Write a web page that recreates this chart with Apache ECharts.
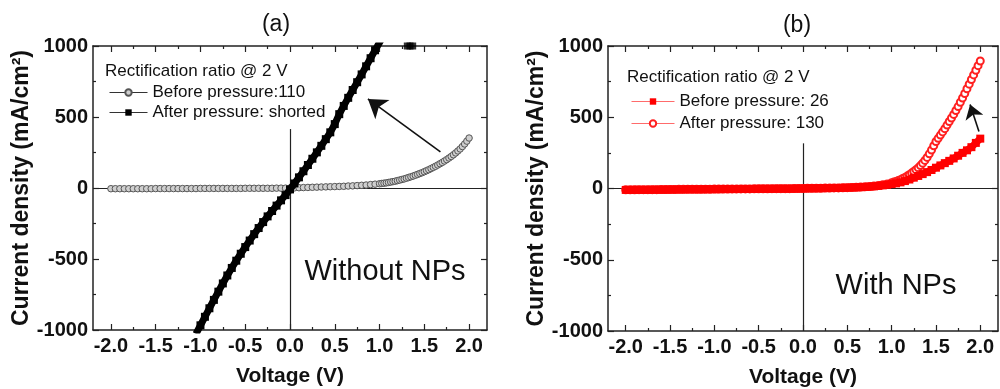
<!DOCTYPE html>
<html>
<head>
<meta charset="utf-8">
<script src="https://cdn.jsdelivr.net/npm/echarts@6/dist/echarts.min.js"></script>
<style>
  html, body { margin: 0; padding: 0; background: #fff; }
  #chart { width: 1000px; height: 389px; }
</style>
</head>
<body>
<div id="chart"></div>
<script>
// voltage samples (V): coarse below 1 V, finer on the rising part
var voltsLo = [-2.0, -1.95, -1.9, -1.85, -1.8, -1.75, -1.7, -1.65, -1.6, -1.55,
  -1.5, -1.45, -1.4, -1.35, -1.3, -1.25, -1.2, -1.15, -1.1, -1.05,
  -1.0, -0.95, -0.9, -0.85, -0.8, -0.75, -0.7, -0.65, -0.6, -0.55,
  -0.5, -0.45, -0.4, -0.35, -0.3, -0.25, -0.2, -0.15, -0.1, -0.05,
  0.0,
  0.05, 0.1, 0.15, 0.2, 0.25, 0.3, 0.35, 0.4, 0.45, 0.5,
  0.55, 0.6, 0.65, 0.7, 0.75, 0.8, 0.85, 0.9, 0.95]

var voltsHi = [1.0, 1.025, 1.05, 1.075, 1.1, 1.125, 1.15, 1.175, 1.2, 1.225,
  1.25, 1.275, 1.3, 1.325, 1.35, 1.375, 1.4, 1.425, 1.45, 1.475,
  1.5, 1.525, 1.55, 1.575, 1.6, 1.625, 1.65, 1.675, 1.7, 1.725,
  1.75, 1.775, 1.8, 1.825, 1.85, 1.875, 1.9, 1.925, 1.95, 1.975, 2.0]

var volts = [-2.0, -1.95, -1.9, -1.85, -1.8, -1.75, -1.7, -1.65, -1.6, -1.55,
  -1.5, -1.45, -1.4, -1.35, -1.3, -1.25, -1.2, -1.15, -1.1, -1.05,
  -1.0, -0.95, -0.9, -0.85, -0.8, -0.75, -0.7, -0.65, -0.6, -0.55,
  -0.5, -0.45, -0.4, -0.35, -0.3, -0.25, -0.2, -0.15, -0.1, -0.05,
  0.0,
  0.05, 0.1, 0.15, 0.2, 0.25, 0.3, 0.35, 0.4, 0.45, 0.5,
  0.55, 0.6, 0.65, 0.7, 0.75, 0.8, 0.85, 0.9, 0.95, 1.0,
  1.05, 1.1, 1.15, 1.2, 1.25, 1.3, 1.35, 1.4, 1.45, 1.5,
  1.55, 1.6, 1.65, 1.7, 1.75, 1.8, 1.85, 1.9, 1.95, 2.0]

var voltsShort = [-1.05, -1.0, -0.95, -0.9, -0.85, -0.8, -0.75, -0.7, -0.65, -0.6, -0.55,
  -0.5, -0.45, -0.4, -0.35, -0.3, -0.25, -0.2, -0.15, -0.1, -0.05,
  0.0,
  0.05, 0.1, 0.15, 0.2, 0.25, 0.3, 0.35, 0.4, 0.45, 0.5,
  0.55, 0.6, 0.65, 0.7, 0.75, 0.8, 0.85, 0.9, 0.95, 1.0, 1.05]

// (a) without NPs, mA/cm2
var leftBeforeLo = [-5, -5, -5, -5, -5, -5, -5, -5, -5, -5,
  -4, -4, -4, -4, -4, -4, -4, -4, -4, -4,
  -3, -3, -3, -3, -3, -3, -3, -3, -3, -3,
  -2, -2, -2, -2, -2, -2, -2, -1, -1, -1,
  0,
  1, 2, 3, 4, 5, 6, 7, 8, 9, 10,
  11, 12, 14, 15, 17, 19, 21, 24, 27]
var leftBeforeHi = [30, 32, 34, 36, 39, 42, 45, 48, 52, 56,
  60, 64, 69, 74, 79, 84, 90, 96, 102, 108,
  115, 122, 129, 137, 145, 153, 162, 171, 180, 190,
  200, 211, 222, 234, 247, 261, 275, 292, 310, 330, 352]

var leftAfter = [-1028, -967, -907, -847, -788, -730, -672, -616, -563, -512, -463,
  -416, -370, -325, -282, -240, -200, -162, -124, -87, -50,
  -10,
  32, 75, 118, 162, 206, 251, 297, 344, 392, 450,
  520, 578, 635, 690, 745, 800, 857, 914, 970, 1025, 1080]

var leftClip = [[1.31, 1000], [1.34, 1000], [1.37, 1000]]

// (b) with NPs, mA/cm2
var rightBefore = [-10, -10, -9, -9, -9, -9, -8, -8, -8, -8,
  -7, -7, -7, -7, -6, -6, -6, -6, -5, -5,
  -5, -5, -4, -4, -4, -4, -3, -3, -3, -3,
  -2, -2, -2, -2, -1, -1, -1, -1, -1, 0,
  0,
  1, 1, 2, 2, 3, 3, 4, 4, 5, 6,
  7, 8, 9, 11, 13, 15, 18, 22, 26, 31,
  36, 43, 52, 63, 76, 88, 101, 115, 130, 146,
  162, 178, 194, 211, 230, 250, 268, 290, 320, 350]

var rightAfterLo = [-9, -9, -9, -8, -8, -8, -8, -8, -7, -7,
  -7, -7, -6, -6, -6, -6, -5, -5, -5, -5,
  -4, -4, -4, -4, -3, -3, -3, -3, -3, -2,
  -2, -2, -2, -1, -1, -1, -1, -1, 0, 0,
  0,
  1, 1, 2, 2, 3, 3, 4, 4, 5, 6,
  7, 8, 10, 12, 14, 17, 21, 26, 32]
var rightAfterHi = [40, 45, 50, 56, 62, 70, 78, 87, 97, 108,
  120, 132, 145, 161, 178, 197, 218, 243, 270, 300,
  330, 352, 375, 397, 420, 445, 470, 495, 520, 547,
  575, 605, 635, 667, 700, 732, 765, 797, 830, 862, 895]

// ticks
var xMajor = [-2.0, -1.5, -1.0, -0.5, 0.0, 0.5, 1.0, 1.5, 2.0]
var xMinor = [-1.75, -1.25, -0.75, -0.25, 0.25, 0.75, 1.25, 1.75]
var yMajor = [-1000, -500, 0, 500, 1000]
var yMinor = [-750, -250, 250, 750]

var FONT = '"Liberation Sans", Arial, sans-serif'
var INK = '#222'

function pairs(xs, ys) {
  return xs.map(function (x, i) { return [x, ys[i]] })
}

function tick(vals, len) {
  return { show: true, inside: true, length: len, customValues: vals, lineStyle: { color: INK, width: 1.2 } }
}

var frameLine = { show: true, onZero: false, lineStyle: { color: INK, width: 1.5 } }
var noLine = { show: false, onZero: false }

function xAxes(grid) {
  var base = { type: 'value', gridIndex: grid, min: -2.2, max: 2.2, splitLine: { show: false } }
  return [
    Object.assign({}, base, {
      position: 'bottom', axisLine: frameLine, axisTick: tick(xMajor, 6),
      axisLabel: {
        customValues: xMajor, margin: 6, color: '#111', fontSize: 20, fontWeight: 'bold', fontFamily: FONT,
        formatter: function (v) { return v.toFixed(1) },
      },
      name: 'Voltage (V)', nameLocation: 'middle', nameGap: 36,
      nameTextStyle: { color: '#111', fontSize: 21, fontWeight: 'bold', fontFamily: FONT },
    }),
    Object.assign({}, base, { position: 'bottom', axisLine: noLine, axisTick: tick(xMinor, 3), axisLabel: { show: false } }),
    Object.assign({}, base, { position: 'top', axisLine: frameLine, axisTick: tick(xMajor, 6), axisLabel: { show: false } }),
    Object.assign({}, base, { position: 'top', axisLine: noLine, axisTick: tick(xMinor, 3), axisLabel: { show: false } }),
  ]
}

function yAxes(grid, gap) {
  var base = { type: 'value', gridIndex: grid, min: -1000, max: 1000, splitLine: { show: false } }
  return [
    Object.assign({}, base, {
      position: 'left', axisLine: frameLine, axisTick: tick(yMajor, 6),
      axisLabel: {
        customValues: yMajor, margin: 5, color: '#111', fontSize: 20, fontWeight: 'bold', fontFamily: FONT,
        formatter: function (v) { return String(v) },
      },
      name: 'Current density (mA/cm²)', nameLocation: 'middle', nameGap: gap, nameRotate: 90,
      nameTextStyle: { color: '#111', fontSize: 23, fontWeight: 'bold', fontFamily: FONT },
    }),
    Object.assign({}, base, { position: 'left', axisLine: noLine, axisTick: tick(yMinor, 3), axisLabel: { show: false } }),
    Object.assign({}, base, { position: 'right', axisLine: frameLine, axisTick: tick(yMajor, 6), axisLabel: { show: false } }),
    Object.assign({}, base, { position: 'right', axisLine: noLine, axisTick: tick(yMinor, 3), axisLabel: { show: false } }),
  ]
}

// y = 0 line and the short x = 0 line under the legend
function zeroLines(top) {
  return {
    silent: true, z: 1, symbol: 'none', label: { show: false },
    lineStyle: { color: INK, width: 1.2, type: 'solid' },
    data: [
      { yAxis: 0 },
      [{ coord: [0, -1000] }, { coord: [0, top] }],
    ],
  }
}

function arrow(from, to, size) {
  return {
    silent: true, symbol: ['none', 'arrow'], symbolSize: size, label: { show: false },
    lineStyle: { color: '#111', width: 1.6, type: 'solid' },
    data: [[{ coord: from }, { coord: to }]],
  }
}

var legendText = { fontSize: 17, color: '#111', fontFamily: FONT }
var bigText = { fontSize: 29, fontFamily: FONT, fill: '#111', textAlign: 'center', textVerticalAlign: 'middle' }

var chart = echarts.init(document.getElementById('chart'))
chart.setOption({
  animation: false,
  backgroundColor: '#fff',
  grid: [
    { left: 93, top: 46, width: 394, height: 284, outerBoundsMode: 'none' },
    { left: 608, top: 46, width: 390, height: 285, outerBoundsMode: 'none' },
  ],
  xAxis: xAxes(0).concat(xAxes(1)),
  yAxis: yAxes(0, 50).concat(yAxes(1, 58)),
  legend: [
    {
      data: ['Before pressure:110', 'After pressure: shorted'],
      left: 104, top: 79, orient: 'vertical', itemWidth: 38, itemHeight: 8, itemGap: 3,
      selectedMode: false, textStyle: legendText, lineStyle: { width: 1, color: '#333' },
    },
    {
      data: ['Before pressure: 26', 'After pressure: 130'],
      left: 626, top: 88, orient: 'vertical', itemWidth: 43, itemHeight: 8, itemGap: 5,
      selectedMode: false, textStyle: legendText, lineStyle: { width: 1, color: '#ff6b6b' },
    },
  ],
  graphic: [
    { type: 'text', x: 276, y: 25, style: Object.assign({}, bigText, { text: '(a)', fontSize: 23 }) },
    { type: 'text', x: 797, y: 26, style: Object.assign({}, bigText, { text: '(b)', fontSize: 23 }) },
    { type: 'text', x: 385, y: 272, style: Object.assign({}, bigText, { text: 'Without NPs' }) },
    { type: 'text', x: 896, y: 286, style: Object.assign({}, bigText, { text: 'With NPs' }) },
    { type: 'text', x: 105, y: 71, style: { text: 'Rectification ratio @ 2 V', fontSize: 17, fontFamily: FONT, fill: '#111', textVerticalAlign: 'middle' } },
    { type: 'text', x: 627, y: 77, style: { text: 'Rectification ratio @ 2 V', fontSize: 17, fontFamily: FONT, fill: '#111', textVerticalAlign: 'middle' } },
  ],
  series: [
    {
      name: 'Before pressure:110', type: 'line', xAxisIndex: 0, yAxisIndex: 0,
      data: pairs(voltsLo, leftBeforeLo).concat(pairs(voltsHi, leftBeforeHi)),
      symbol: 'circle', symbolSize: 6.5, showAllSymbol: true, z: 2,
      itemStyle: { color: '#cfcfcf', borderColor: '#555', borderWidth: 1 },
      lineStyle: { color: '#666', width: 1 },
      markLine: zeroLines(415),
    },
    {
      name: 'After pressure: shorted', type: 'line', xAxisIndex: 0, yAxisIndex: 0,
      data: pairs(voltsShort, leftAfter), symbol: 'rect', symbolSize: 8, showAllSymbol: true, z: 3,
      itemStyle: { color: '#000' },
      lineStyle: { color: '#000', width: 7 },
      markLine: arrow([1.68, 254], [0.87, 627], 18),
    },
    {
      name: 'clip', type: 'scatter', xAxisIndex: 0, yAxisIndex: 0,
      data: leftClip, symbol: 'rect', symbolSize: 7, itemStyle: { color: '#000' }, z: 3,
    },
    {
      name: 'After pressure: 130', type: 'line', xAxisIndex: 4, yAxisIndex: 4,
      data: pairs(voltsLo, rightAfterLo).concat(pairs(voltsHi, rightAfterHi)),
      symbol: 'emptyCircle', symbolSize: 7, showAllSymbol: true, z: 2,
      itemStyle: { color: '#ff2020', borderWidth: 1.2 },
      lineStyle: { color: '#ff5050', width: 1 },
      markLine: zeroLines(317),
    },
    {
      name: 'Before pressure: 26', type: 'line', xAxisIndex: 4, yAxisIndex: 4,
      data: pairs(volts, rightBefore), symbol: 'rect', symbolSize: 8, showAllSymbol: true, z: 3,
      itemStyle: { color: '#ff0000' },
      lineStyle: { color: '#ff0000', width: 7 },
      markLine: arrow([1.985, 400], [1.885, 590], 14),
    },
  ],
})
</script>
</body>
</html>
